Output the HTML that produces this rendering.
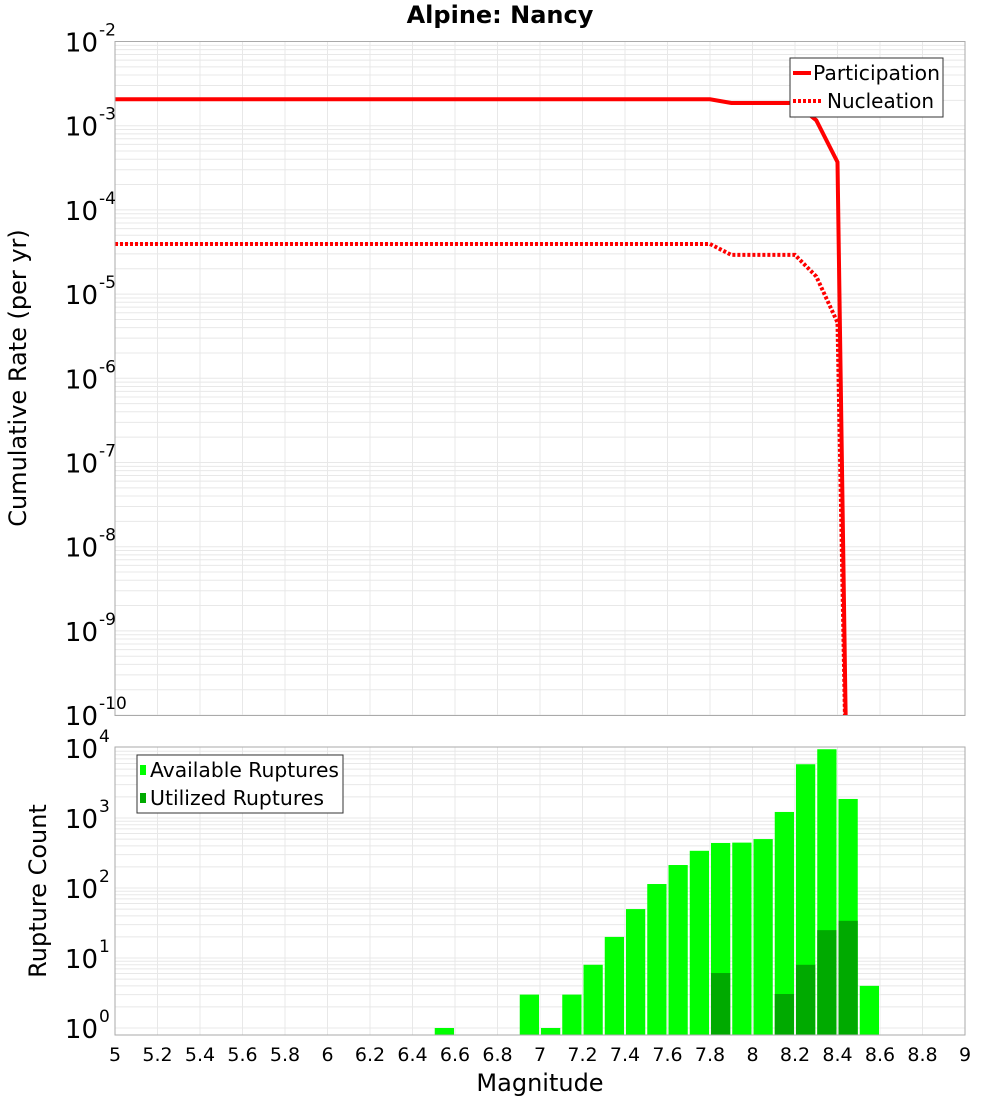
<!DOCTYPE html>
<html><head><meta charset="utf-8"><style>
body{margin:0;background:#fff}
svg{display:block;font-family:"DejaVu Sans","Liberation Sans",sans-serif}
</style></head><body>
<svg id="chart" width="1000" height="1100" viewBox="0 0 1000 1100" xmlns="http://www.w3.org/2000/svg">
<defs>
<clipPath id="clipTop"><rect x="115" y="41.5" width="850" height="674"/></clipPath>
<clipPath id="clipBot"><rect x="115" y="747" width="850" height="288"/></clipPath>
</defs>
<text x="500" y="23" text-anchor="middle" font-weight="bold" font-size="24">Alpine: Nancy</text>
<g id="gTop"></g>
<g id="gBot"></g>
<text transform="translate(26,378) rotate(-90)" text-anchor="middle" font-size="24">Cumulative Rate (per yr)</text>
<text transform="translate(46,891) rotate(-90)" text-anchor="middle" font-size="24">Rupture Count</text>
<text x="540" y="1091" text-anchor="middle" font-size="24">Magnitude</text>
<g>
<rect x="790" y="58" width="153" height="59" fill="#fff" stroke="#333" stroke-width="1"/>
<line x1="793" y1="73" x2="811" y2="73" stroke="#f00" stroke-width="4"/>
<text x="813" y="80" font-size="20" textLength="127" lengthAdjust="spacingAndGlyphs">Participation</text>
<line x1="793" y1="101" x2="823" y2="101" stroke="#f00" stroke-width="4" stroke-dasharray="3,2"/>
<text x="827" y="108" font-size="20" textLength="107" lengthAdjust="spacingAndGlyphs">Nucleation</text>
</g>
<g>
<rect x="137" y="755" width="206" height="58" fill="#fff" stroke="#333" stroke-width="1"/>
<rect x="140" y="765" width="6" height="10" fill="#00ff00"/>
<text x="150" y="777" font-size="20" textLength="189" lengthAdjust="spacingAndGlyphs">Available Ruptures</text>
<rect x="140" y="793" width="6" height="10" fill="#00aa00"/>
<text x="150" y="805" font-size="20" textLength="174" lengthAdjust="spacingAndGlyphs">Utilized Ruptures</text>
</g>
</svg>
<script>
const partMags = [5.0, 7.8, 7.9, 8.2, 8.3, 8.4, 8.45];
const partRates = [2.06e-3, 2.06e-3, 1.86e-3, 1.86e-3, 1.16e-3, 3.7e-4, 1e-12];
const nuclMags = [5.0, 7.8, 7.9, 8.2, 8.3, 8.4, 8.45];
const nuclRates = [3.94e-5, 3.94e-5, 2.92e-5, 2.92e-5, 1.62e-5, 4.6e-6, 1e-12];
const binStarts = [6.5, 6.9, 7.0, 7.1, 7.2, 7.3, 7.4, 7.5, 7.6, 7.7, 7.8, 7.9, 8.0, 8.1, 8.2, 8.3, 8.4, 8.5];
const availCounts = [1, 3, 1, 3, 8, 20, 50, 114, 213, 340, 440, 445, 500, 1220, 5860, 9600, 1870, 4];
const utilBins = [7.8, 8.1, 8.2, 8.3, 8.4];
const utilCounts = [6.1, 3.06, 8, 25, 34];
const xTicks = ["5","5.2","5.4","5.6","5.8","6","6.2","6.4","6.6","6.8","7","7.2","7.4","7.6","7.8","8","8.2","8.4","8.6","8.8","9"];
const topExps = [-2,-3,-4,-5,-6,-7,-8,-9,-10];
const botExps = [0,1,2,3,4];

const NS = "http://www.w3.org/2000/svg";
const X0 = 115, X1 = 965;
const xs = m => X0 + (m - 5) * (X1 - X0) / 4;
const yTop = v => 41.5 - (Math.log10(v) + 2) * 84.2;
const yBot = v => 1028 - Math.log10(v) * 70;
function mk(tag, parent, attrs){const e=document.createElementNS(NS,tag);for(const k in attrs)e.setAttribute(k,attrs[k]);parent.appendChild(e);return e;}
const gT = document.getElementById('gTop'), gB = document.getElementById('gBot');

function grid(g, y0, y1, yf, exps){
  for(let i=0;i<exps.length-1;i++){
    const lo=Math.min(exps[i],exps[i+1]);
    for(let k=1;k<10;k++){const y=yf(k*Math.pow(10,lo));
      if(y<y0||y>y1)continue;
      const l=mk('line',g,{x1:X0,x2:X1,y1:y,y2:y,stroke:'#e8e8e8','stroke-width':1});
      
      }
  }
  for(let i=0;i<=20;i++){const x=xs(5+i*0.2);
    const l=mk('line',g,{x1:x,x2:x,y1:y0,y2:y1,stroke:'#e8e8e8','stroke-width':1});
    
    }
}
grid(gT,41.5,715.5,yTop,topExps);
grid(gB,747,1035,yBot,botExps);

binStarts.forEach((m,i)=>{
  const y=yBot(availCounts[i]);
  const r=mk('rect',gB,{x:xs(m)+1,y:y,width:xs(m+0.1)-xs(m)-2,height:1035-y,fill:'#00ff00','clip-path':'url(#clipBot)'});
  
  
});
utilBins.forEach((m,i)=>{
  const y=yBot(utilCounts[i]);
  const r=mk('rect',gB,{x:xs(m)+1,y:y,width:xs(m+0.1)-xs(m)-2,height:1035-y,fill:'#00aa00'});
  
  
});

function path(mags,vals){return mags.map((m,i)=>(i?'L':'M')+xs(m).toFixed(1)+','+yTop(vals[i]).toFixed(1)).join(' ');}
const pn=mk('path',gT,{d:path(nuclMags,nuclRates),fill:'none',stroke:'#f00','stroke-width':4,'stroke-dasharray':'3,2','clip-path':'url(#clipTop)'});


const pp=mk('path',gT,{d:path(partMags,partRates),fill:'none',stroke:'#f00','stroke-width':4,'clip-path':'url(#clipTop)'});



const f1=mk('rect',gT,{x:X0,y:41.5,width:850,height:674,fill:'none',stroke:'#aaa'});


const f2=mk('rect',gB,{x:X0,y:747,width:850,height:288,fill:'none',stroke:'#aaa'});



function ylab(g,y,e){
  const t=mk('text',g,{x:98,y:y+10,'text-anchor':'end','font-size':26});
  t.textContent='10';
  
  
  const s=mk('text',g,{x:99,y:y-6,'font-size':17});
  s.textContent=String(e);
  
  
}
topExps.forEach(e=>ylab(gT,yTop(Math.pow(10,e)),e));
botExps.forEach(e=>ylab(gB,yBot(Math.pow(10,e)),e));
xTicks.forEach(s=>{
  const t=mk('text',gB,{x:xs(parseFloat(s)),y:1061,'text-anchor':'middle','font-size':19});
  t.textContent=s;
  
  
});
</script>
</body></html>
